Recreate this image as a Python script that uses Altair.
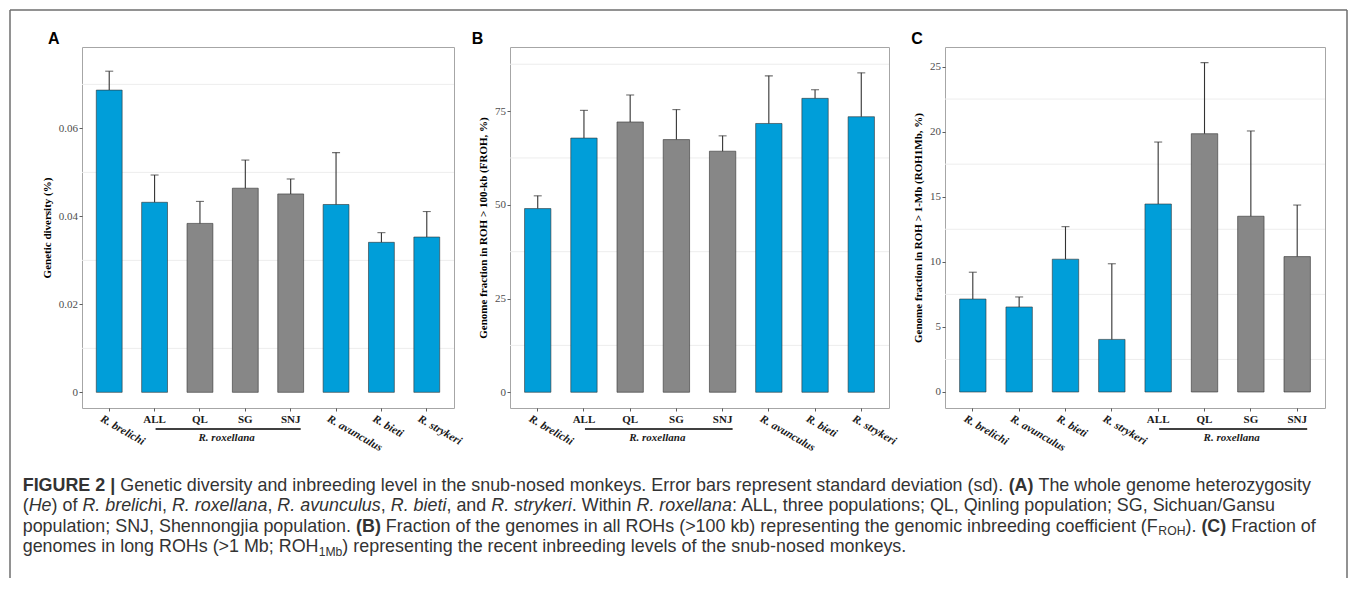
import altair as alt
import pandas as pd

# ------------------------------------------------------------------ data
ab_cats = ["R. brelichi", "ALL", "QL", "SG", "SNJ", "R. avunculus", "R. bieti", "R. strykeri"]
ab_kind = ["sp", "sp", "pop", "pop", "pop", "sp", "sp", "sp"]
a_mean = [0.0687, 0.0432, 0.0384, 0.0464, 0.0451, 0.0427, 0.0341, 0.0353]
a_sd = [0.0043, 0.0062, 0.0050, 0.0064, 0.0034, 0.0118, 0.0022, 0.0058]
b_mean = [49.0, 67.8, 72.1, 67.4, 64.3, 71.7, 78.4, 73.5]
b_sd = [3.4, 7.4, 7.2, 8.0, 4.1, 12.7, 2.3, 11.7]
c_cats = ["R. brelichi", "R. avunculus", "R. bieti", "R. strykeri", "ALL", "QL", "SG", "SNJ"]
c_kind = ["sp", "sp", "sp", "sp", "sp", "pop", "pop", "pop"]
c_mean = [7.14, 6.53, 10.2, 4.04, 14.44, 19.84, 13.5, 10.4]
c_sd = [2.06, 0.77, 2.5, 5.81, 4.76, 5.46, 6.55, 3.96]
pop_labels = ["ALL", "QL", "SG", "SNJ"]
a_ticks = [0, 0.02, 0.04, 0.06]
a_grid = [0.01, 0.03, 0.05, 0.07]
b_ticks = [0, 25, 50, 75]
b_grid = [12.5, 37.5, 62.5, 87.5]
c_ticks = [0, 5, 10, 15, 20, 25]
c_grid = [2.5, 7.5, 12.5, 17.5, 22.5]

caption_lines = [
    [("FIGURE 2 |", "b"),
     (" Genetic diversity and inbreeding level in the snub-nosed monkeys. Error bars represent standard deviation (sd). ", "r"),
     ("(A)", "b"), (" The whole genome heterozygosity", "r")],
    [("(", "r"), ("He", "i"), (") of ", "r"), ("R. brelich", "i"), ("i, ", "r"), ("R. roxellana", "i"),
     (", ", "r"), ("R. avunculus", "i"), (", ", "r"), ("R. bieti", "i"), (", and ", "r"),
     ("R. strykeri", "i"), (". Within ", "r"), ("R. roxellana", "i"),
     (": ALL, three populations; QL, Qinling population; SG, Sichuan/Gansu", "r")],
    [("population; SNJ, Shennongjia population. ", "r"), ("(B)", "b"),
     (" Fraction of the genomes in all ROHs (>100 kb) representing the genomic inbreeding coefficient (F", "r"),
     ("ROH", "s"), ("). ", "r"), ("(C)", "b"), (" Fraction of", "r")],
    [("genomes in long ROHs (>1 Mb; ROH", "r"), ("1Mb", "s"),
     (") representing the recent inbreeding levels of the snub-nosed monkeys.", "r")],
]

# ------------------------------------------------------------------ style
BLUE = "#009ED9"
GRAY = "#878787"
INK = "#333333"
SERIF = "Liberation Serif"
SANS = "Liberation Sans"
PLOT_H = 361
ORIGIN_X = 82.0   # page x of panel A plot area
ORIGIN_Y = 47.0

# Arial / Liberation Sans advance widths (per 1000 em) used to chain caption segments
W_REG = {' ': 278, '(': 333, ')': 333, ',': 278, '-': 333, '.': 278, '/': 278, ':': 278, ';': 278,
         '>': 584, '|': 260,
         'A': 667, 'B': 667, 'C': 722, 'D': 722, 'E': 667, 'F': 611, 'G': 778, 'H': 722, 'I': 278,
         'J': 500, 'K': 667, 'L': 556, 'M': 833, 'N': 722, 'O': 778, 'P': 667, 'Q': 778, 'R': 722,
         'S': 667, 'T': 611, 'U': 722, 'V': 667, 'W': 944, 'X': 667, 'Y': 667, 'Z': 611,
         'a': 556, 'b': 556, 'c': 500, 'd': 556, 'e': 556, 'f': 278, 'g': 556, 'h': 556, 'i': 222,
         'j': 222, 'k': 500, 'l': 222, 'm': 833, 'n': 556, 'o': 556, 'p': 556, 'q': 556, 'r': 333,
         's': 500, 't': 278, 'u': 556, 'v': 500, 'w': 722, 'x': 500, 'y': 500, 'z': 500}
for d in "0123456789":
    W_REG[d] = 556
W_BOLD = dict(W_REG)
W_BOLD.update({'|': 280, 'A': 722, 'B': 722, 'C': 722, 'E': 667, 'F': 611, 'G': 778, 'I': 278,
               'R': 722, 'U': 722})

CAP_SIZE = 17.9
SUB_SIZE = 12.2
CAP_X0 = 22.7 - ORIGIN_X
CAP_BASE0 = 491.0 - ORIGIN_Y
CAP_LS = 20.4


def caption_layers():
    out = []
    for li, segs in enumerate(caption_lines):
        x = CAP_X0
        for text, style in segs:
            size = SUB_SIZE if style == "s" else CAP_SIZE
            table = W_BOLD if style == "b" else W_REG
            lead = len(text) - len(text.lstrip(" "))
            kw = {}
            if style == "b":
                kw["fontWeight"] = "bold"
            if style == "i":
                kw["fontStyle"] = "italic"
            out.append(
                alt.Chart(pd.DataFrame({"t": [text.strip()]}))
                .mark_text(font=SANS, fontSize=size, align="left", baseline="alphabetic",
                           color="#333333", **kw)
                .encode(x=alt.value(x + lead * table[" "] / 1000 * size),
                        y=alt.value(CAP_BASE0 + li * CAP_LS + (3.5 if style == "s" else 0)),
                        text="t:N")
            )
            x += sum(table.get(ch, 556) for ch in text) / 1000 * size
    return out


def frame_layers():
    one = pd.DataFrame({"f": [0]})
    rule = dict(color="#6E6E6E", strokeWidth=1.5)
    return [
        alt.Chart(one).mark_rule(**rule).encode(x=alt.value(-72), x2=alt.value(1265), y=alt.value(-37)),
        alt.Chart(one).mark_rule(**rule).encode(x=alt.value(-72), y=alt.value(-37), y2=alt.value(531)),
        alt.Chart(one).mark_rule(**rule).encode(x=alt.value(1265), y=alt.value(-37), y2=alt.value(531)),
    ]


def panel(cats, kinds, means, sds, width, ydomain, yticks, ygrid, ytitle,
          letter, letter_x, label_expr, back=None, front=None):
    df = pd.DataFrame({"cat": cats, "kind": kinds, "mean": means, "sd": sds})
    df["upper"] = df["mean"] + df["sd"]
    flat = df[df["cat"].isin(pop_labels)]
    slanted = df[~df["cat"].isin(pop_labels)]
    step = width / 8.2
    xscale = alt.Scale(domain=cats, paddingInner=0.43, paddingOuter=0.315)
    yscale = alt.Scale(domain=ydomain, nice=False, zero=False)
    x_axis = alt.Axis(labels=False, title=None, domain=False, grid=False, ticks=True,
                      tickSize=3, tickColor=INK, tickWidth=0.8)
    y_axis = alt.Axis(values=yticks, labelExpr=label_expr, domain=False, grid=False,
                      tickSize=3, tickColor=INK, tickWidth=0.8, labelPadding=1.5,
                      labelFont=SERIF, labelFontSize=11, labelColor="#4D4D4D",
                      title=ytitle, titleFont=SERIF, titleFontSize=11, titleFontWeight="bold",
                      titleColor="black", titlePadding=6)

    def X(field):
        return alt.X(field, scale=xscale, axis=x_axis, title=None)

    def Y(field):
        return alt.Y(field, scale=yscale, axis=y_axis, title=ytitle)

    layers = list(back or [])
    layers.append(
        alt.Chart(pd.DataFrame({"g": ygrid})).mark_rule(color="#EDEDED", strokeWidth=1)
        .encode(y=Y("g:Q"))
    )
    layers.append(
        alt.Chart(df).mark_bar(stroke=INK, strokeWidth=0.6).encode(
            x=X("cat:N"),
            y=Y("mean:Q"),
            y2=alt.datum(0),
            color=alt.Color("kind:N", scale=alt.Scale(domain=["sp", "pop"], range=[BLUE, GRAY]), legend=None),
        )
    )
    layers.append(
        alt.Chart(df).mark_rule(color=INK, strokeWidth=1.1).encode(
            x=X("cat:N"), y=Y("mean:Q"), y2="upper:Q")
    )
    layers.append(
        alt.Chart(df).mark_tick(color=INK, thickness=1.1, size=8).encode(
            x=X("cat:N"), y=Y("upper:Q"))
    )
    layers.append(
        alt.Chart(flat).mark_text(font=SERIF, fontSize=11, fontWeight="bold", color="#1A1A1A",
                                  baseline="alphabetic")
        .encode(x=X("cat:N"), y=alt.value(PLOT_H + 15), text="cat:N")
    )
    layers.append(
        alt.Chart(slanted).mark_text(font=SERIF, fontSize=11.3, fontWeight="bold", fontStyle="italic",
                                     color="#1A1A1A", angle=30, align="left", baseline="top", xOffset=-5)
        .encode(x=X("cat:N"), y=alt.value(PLOT_H + 5), text="cat:N")
    )
    layers.append(
        alt.Chart(pd.DataFrame({"s": ["ALL"], "e": ["SNJ"]}))
        .mark_rule(color="black", strokeWidth=1.5, xOffset=1, x2Offset=10)
        .encode(x=alt.X("s:N", scale=xscale, axis=x_axis, title=None, bandPosition=0.5),
                x2=alt.X2("e:N", bandPosition=0.5),
                y=alt.value(PLOT_H + 21))
    )
    layers.append(
        alt.Chart(pd.DataFrame({"m": ["QL"], "t": ["R. roxellana"]}))
        .mark_text(font=SERIF, fontSize=11, fontWeight="bold", fontStyle="italic", color="#1A1A1A",
                   baseline="alphabetic", xOffset=step / 2 + 4)
        .encode(x=X("m:N"), y=alt.value(PLOT_H + 33), text="t:N")
    )
    layers.append(
        alt.Chart(pd.DataFrame({"t": [letter]}))
        .mark_text(font=SANS, fontSize=16, fontWeight="bold", color="black", align="left", baseline="alphabetic")
        .encode(x=alt.value(letter_x), y=alt.value(-3.5), text="t:N")
    )
    layers.extend(front or [])
    return alt.layer(*layers).properties(width=width, height=PLOT_H)


pA = panel(ab_cats, ab_kind, a_mean, a_sd, 372, [-0.00356, 0.0785], a_ticks, a_grid,
           "Genetic diversity (%)", "A", -34.0,
           "datum.value == 0 ? '0' : format(datum.value, '.2f')",
           back=frame_layers(), front=caption_layers())
pB = panel(ab_cats, ab_kind, b_mean, b_sd, 379, [-4.2, 92.1], b_ticks, b_grid,
           "Genome fraction in ROH > 100-kb (FROH, %)", "B", -38.3, "format(datum.value, 'd')")
pC = panel(c_cats, c_kind, c_mean, c_sd, 380, [-1.23, 26.5], c_ticks, c_grid,
           "Genome fraction in ROH > 1-Mb (ROH1Mb, %)", "C", -33.8, "format(datum.value, 'd')")

chart = (alt.hconcat(pA, pB, pC, spacing=56, bounds="flush")
         .properties(padding=0)
         .configure_view(stroke="#A6A6A6", strokeWidth=1))

chart.save("out.html", embed_options={"renderer": "svg", "actions": False})
